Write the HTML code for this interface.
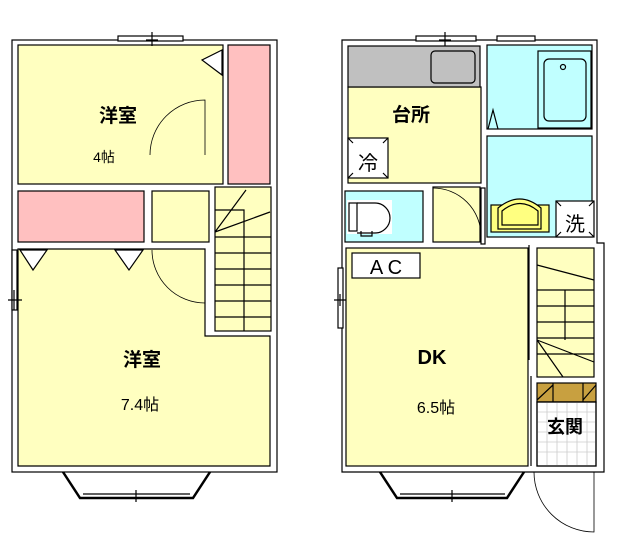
<!DOCTYPE html>
<html><head><meta charset="utf-8"><style>
html,body{margin:0;padding:0;background:#fff;}
svg{display:block;}
text{font-family:"Liberation Sans","Noto Sans CJK JP",sans-serif;}
</style></head><body>
<svg width="624" height="554" viewBox="0 0 624 554" xmlns="http://www.w3.org/2000/svg">
<g stroke="#000" stroke-width="1.2" fill="none">
<!-- LEFT PLAN -->
<rect x="12" y="40" width="265" height="432" fill="#fff"/>
<rect x="18" y="45" width="205" height="139" fill="#ffffc0"/>
<rect x="228" y="45" width="42" height="139" fill="#ffc0c0"/>
<rect x="18" y="191" width="126" height="51" fill="#ffc0c0"/>
<rect x="152" y="191" width="57" height="51" fill="#ffffc0"/>
<rect x="215" y="187" width="56" height="144" fill="#ffffc0"/>
<path d="M18 249 H205 V336 H270 V466 H18 Z" fill="#ffffc0"/>
<path d="M215 237 H271 M215 253 H271 M215 269 H271 M215 285 H271 M215 301 H271 M215 317 H271 M244 237 V331 M215 210 H244 V237 M215 232 L246 190 M215 232 L270 212"/>
<path d="M205 155 V100 A55 55 0 0 0 150 155" stroke-width="0.8"/>
<path d="M205 305 V250 M152 250 A53 53 0 0 0 205 303" stroke-width="0.8"/>
<path d="M222 50 L202 60 L222 75 Z" fill="#fff"/>
<path d="M20 250 L47 250 L33 270 Z M115 250 L143 250 L129 270 Z" fill="#fff"/>
<rect x="118" y="36" width="65" height="5" fill="#fff"/>
<path d="M152 32 V46 M146 40 H158"/>
<rect x="12" y="250" width="5" height="60" fill="#fff"/>
<path d="M8 300 H22 M14 290 V310"/>
<path d="M63 472 L80 498 H193 L210 472" stroke-width="2.5"/>
<path d="M83 494 H190 M136 490 V502"/>
<!-- RIGHT PLAN -->
<path d="M342 40 H597 V243 H604 V472 H342 Z" fill="#fff"/>
<rect x="348" y="87" width="133" height="96" fill="#ffffc0"/>
<rect x="348" y="46" width="132" height="41" fill="#c0c0c0"/>
<rect x="431" y="51" width="44" height="32" rx="4" fill="#c0c0c0"/>
<rect x="487" y="45" width="105" height="84" fill="#c0ffff"/>
<rect x="538" y="51" width="53" height="77" fill="#c0ffff"/>
<rect x="544" y="59" width="42" height="62" rx="5"/>
<circle cx="563" cy="67" r="2.5"/>
<path d="M488 129 L493 110 L498 129"/>
<rect x="487" y="136" width="105" height="101" fill="#c0ffff"/>
<rect x="345" y="191" width="78" height="51" fill="#c0ffff"/>
<rect x="433" y="187" width="47" height="55" fill="#ffffc0"/>
<path d="M433 188 A48 48 0 0 1 481 236" stroke-width="0.8"/>
<rect x="481" y="188" width="4" height="56" fill="#fff"/>
<rect x="347" y="200" width="45" height="34" fill="#fff" stroke="none"/>
<rect x="349" y="203" width="8" height="28" fill="#fff"/>
<path d="M357 203 H375 A15 15 0 0 1 375 233 H357 M361 231 V236 H372 V231"/>
<rect x="348" y="138" width="40" height="40" fill="#fff"/>
<path d="M348 138 L353 143 M388 138 L383 143 M348 178 L353 173 M388 178 L383 173"/>
<rect x="491" y="205" width="58" height="27" fill="#ffff80"/>
<path d="M498 229 V208 Q520 190 541 208 V229 Z" fill="#ffff80"/>
<path d="M502 225 V211 Q520 196 538 211 V225 Z"/>
<rect x="556" y="201" width="38" height="36" fill="#fff"/>
<path d="M556 201 L561 206 M594 201 L589 206 M556 237 L561 232 M594 237 L589 232"/>
<rect x="346" y="248" width="182" height="218" fill="#ffffc0"/>
<rect x="352" y="253" width="68" height="25" fill="#fff"/>
<rect x="537" y="248" width="57" height="129" fill="#ffffc0"/>
<path d="M537 290 H594 M537 306 H594 M537 322 H594 M537 338 H594 M537 354 H594 M565 290 V340 M537 340 L594 362 M537 340 L563 377 M537 265 L594 280"/>
<rect x="537" y="383" width="59" height="19" fill="#c8a040"/>
<path d="M553 383 V402 M583 383 V402 M537 400 L553 385 M583 400 L596 385"/>
<rect x="537" y="402" width="59" height="64" fill="#fff"/>
<g stroke="#ccc" stroke-width="0.8">
<path d="M537 412 H596 M537 422 H596 M537 432 H596 M537 442 H596 M537 452 H596 M547 402 V466 M557 402 V466 M567 402 V466 M577 402 V466 M587 402 V466"/>
</g>
<rect x="537" y="402" width="59" height="64"/>
<path d="M531 376 V466 M529 245 V360"/>
<path d="M534 472 A60 60 0 0 0 594 532 V472" stroke-width="0.8"/>
<rect x="416" y="36" width="60" height="5" fill="#fff"/>
<rect x="497" y="36" width="38" height="5" fill="#fff"/>
<path d="M445 32 V46 M439 40 H451"/>
<rect x="338" y="268" width="5" height="60" fill="#fff"/>
<path d="M334 300 H346 M340 294 V306"/>
<path d="M380 472 L397 498 H507 L524 472" stroke-width="2.5"/>
<path d="M400 494 H505 M452 490 V502"/>
</g>
<g fill="#000" text-anchor="middle">
<text x="118" y="122" font-size="19" font-weight="bold">洋室</text>
<text x="104" y="162" font-size="14">4帖</text>
<text x="142" y="366" font-size="19" font-weight="bold">洋室</text>
<text x="140" y="410" font-size="16">7.4帖</text>
<text x="411" y="121" font-size="19" font-weight="bold">台所</text>
<text x="368" y="170" font-size="20">冷</text>
<text x="575" y="231" font-size="20">洗</text>
<text x="386" y="274" font-size="20">A C</text>
<text x="432" y="364" font-size="20" font-weight="bold">DK</text>
<text x="436" y="413" font-size="16">6.5帖</text>
<text x="565" y="433" font-size="18" font-weight="bold">玄関</text>
</g>
</svg>
</body></html>
